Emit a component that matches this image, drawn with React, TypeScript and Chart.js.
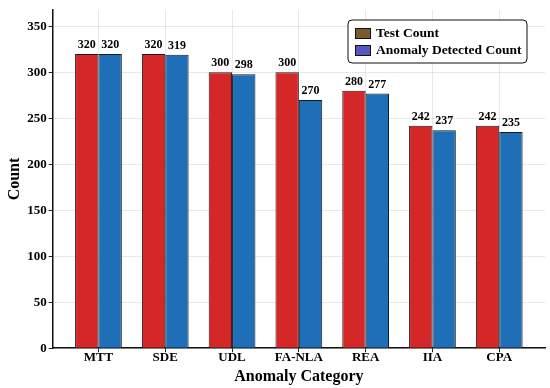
import React, { useEffect, useRef } from "react";
import { Chart, registerables } from "chart.js";

Chart.register(...registerables);

const categories = ["MTT", "SDE", "UDL", "FA-NLA", "REA", "IIA", "CPA"];
const testCount = [320, 320, 300, 300, 280, 242, 242];
const detectedCount = [320, 319, 298, 270, 277, 237, 235];
const yTicks = [0, 50, 100, 150, 200, 250, 300, 350];
const seriesNames = ["Test Count", "Anomaly Detected Count"];
const barColors = ["#d62728", "#1f6fb8"];
const legendColors = ["#7a5a2e", "#5855c0"];

const FONT = "'Liberation Serif', 'Times New Roman', serif";

const valueLabels = {
  id: "valueLabels",
  afterDatasetsDraw(chart: any) {
    const ctx = chart.ctx;
    ctx.save();
    ctx.font = `bold 12px ${FONT}`;
    ctx.fillStyle = "#000";
    ctx.textAlign = "center";
    ctx.textBaseline = "bottom";
    chart.data.datasets.forEach((ds: any, di: number) => {
      const meta = chart.getDatasetMeta(di);
      meta.data.forEach((el: any, i: number) => {
        ctx.fillText(String(ds.data[i].y), el.x, el.y - 3);
      });
    });
    ctx.restore();
  },
};

const boxLegend = {
  id: "boxLegend",
  afterDraw(chart: any) {
    const ctx = chart.ctx;
    const x = 348, y = 20, w = 179, h = 43, r = 4;
    ctx.save();
    ctx.beginPath();
    ctx.roundRect(x, y, w, h, r);
    ctx.fillStyle = "rgba(255,255,255,0.9)";
    ctx.fill();
    ctx.strokeStyle = "#111";
    ctx.lineWidth = 1;
    ctx.stroke();
    ctx.font = `bold 13.5px ${FONT}`;
    ctx.textBaseline = "middle";
    ctx.textAlign = "left";
    seriesNames.forEach((name, i) => {
      const cy = 33 + i * 17;
      ctx.fillStyle = legendColors[i];
      ctx.fillRect(355, cy - 5, 15, 10);
      ctx.strokeStyle = "#111";
      ctx.strokeRect(355.5, cy - 4.5, 15, 10);
      ctx.fillStyle = "#000";
      ctx.fillText(name, 376, cy + 1);
    });
    ctx.restore();
  },
};

export default function App() {
  const ref = useRef<HTMLCanvasElement>(null);
  useEffect(() => {
    document.body.style.margin = "0";
    const chart = new Chart(ref.current!, {
      type: "bar",
      data: {
        datasets: [testCount, detectedCount].map((arr, di) => ({
          label: seriesNames[di],
          data: arr.map((v, i) => ({ x: i, y: v })),
          backgroundColor: barColors[di],
          borderColor: "#1a1a1a",
          borderWidth: 1,
          categoryPercentage: 0.7,
          barPercentage: 1.0,
        })),
      },
      options: {
        animation: false,
        responsive: false,
        maintainAspectRatio: false,
        layout: { padding: { left: 5, right: 5, top: 4, bottom: 2 } },
        plugins: { legend: { display: false }, tooltip: { enabled: false } },
        scales: {
          x: {
            type: "linear",
            min: -0.685,
            max: 6.685,
            offset: false,
            afterBuildTicks: (axis: any) => {
              axis.ticks = categories.map((_, i) => ({ value: i }));
            },
            ticks: {
              callback: (v: any) => categories[v] ?? "",
              font: { family: FONT, size: 13, weight: "bold" },
              color: "#000",
              padding: -2,
              maxRotation: 0,
              autoSkip: false,
            },
            grid: {
              offset: false,
              color: "rgba(0,0,0,0.09)",
              tickColor: "#222",
              tickLength: 4,
            },
            border: { color: "#111", width: 1.5 },
            title: {
              display: true,
              text: "Anomaly Category",
              font: { family: FONT, size: 16, weight: "bold" },
              color: "#000",
              padding: { top: 3, bottom: 0 },
            },
          },
          y: {
            min: 0,
            max: 368,
            afterBuildTicks: (axis: any) => {
              axis.ticks = yTicks.map((v) => ({ value: v }));
            },
            ticks: {
              font: { family: FONT, size: 13, weight: "bold" },
              color: "#000",
              padding: 2,
            },
            grid: {
              color: "rgba(0,0,0,0.09)",
              tickColor: "#222",
              tickLength: 4,
            },
            border: { color: "#111", width: 1.5 },
            title: {
              display: true,
              text: "Count",
              font: { family: FONT, size: 16, weight: "bold" },
              color: "#000",
              padding: { top: 0, bottom: 1 },
            },
          },
        },
      },
      plugins: [valueLabels, boxLegend],
    } as any);
    return () => chart.destroy();
  }, []);
  return (
    <div style={{ width: 550, height: 388 }}>
      <canvas ref={ref} width={550} height={388} style={{ display: "block" }} />
    </div>
  );
}
